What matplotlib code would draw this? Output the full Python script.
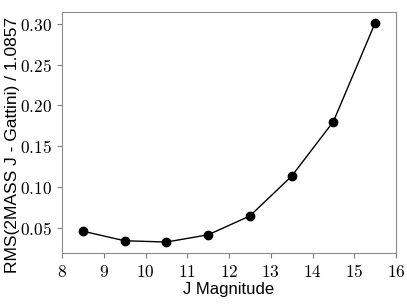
import matplotlib
matplotlib.use("Agg")
import matplotlib.pyplot as plt
from matplotlib.ticker import FuncFormatter

plt.rcParams['mathtext.fontset'] = 'cm'

jmag = [8.5, 9.5, 10.5, 11.5, 12.5, 13.5, 14.5, 15.5]
rms = [0.0455, 0.0338, 0.0322, 0.0411, 0.0642, 0.113, 0.180, 0.301]

fig = plt.figure(figsize=(4.07, 3.05), dpi=100)
ax = fig.add_axes([62/407, 1 - 253/305, (396-62)/407, (253-12)/305])

ax.plot(jmag, rms, 'k-', marker='o', markersize=6, linewidth=1)

ax.set_xlim(8, 16)
ax.set_xticks(range(8, 17))
ax.set_yticks([0.05, 0.10, 0.15, 0.20, 0.25, 0.30])
ax.xaxis.set_major_formatter(FuncFormatter(lambda v, p: r'$%d$' % v))
ax.yaxis.set_major_formatter(FuncFormatter(lambda v, p: r'$%.2f$' % v))
ax.tick_params(labelsize=12.5, color='0.5')
for s in ax.spines.values():
    s.set_color('0.55')

ax.set_xlabel('J Magnitude', fontsize=12, family='Liberation Sans', labelpad=1)
ax.set_ylabel('RMS(2MASS J - Gattini) / 1.0857', fontsize=12.5,
              family='Liberation Sans', labelpad=3)
ax.yaxis.set_label_coords(-0.125, 0.45)

fig.savefig('out.png', dpi=100)
